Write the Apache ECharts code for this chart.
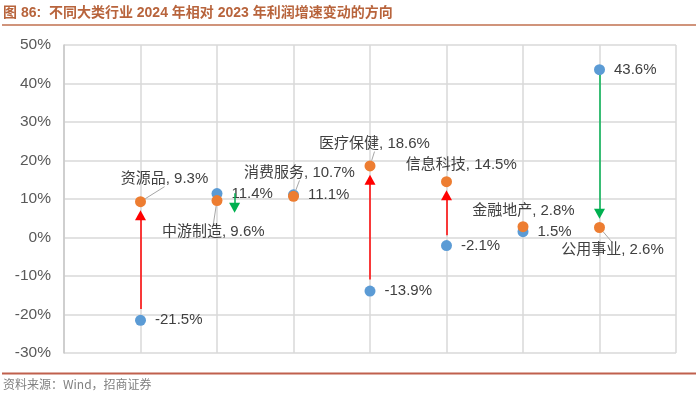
<!DOCTYPE html>
<html>
<head>
<meta charset="utf-8">
<script src="https://cdn.jsdelivr.net/npm/echarts@6/dist/echarts.min.js"></script>
<style>html,body{margin:0;padding:0;background:#fff}#c{width:698px;height:395px}</style>
</head>
<body>
<div id="c"></div>
<script>
// ---- data ----
var categories = ['资源品', '中游制造', '消费服务', '医疗保健', '信息科技', '金融地产', '公用事业'];
var growth2023 = [-21.5, 11.4, 11.1, -13.9, -2.1, 1.5, 43.6];
var growth2024 = [9.3, 9.6, 10.7, 18.6, 14.5, 2.8, 2.6];
// arrows: x position (category slot), start value, head value
var arrowX = [1, 2.23, 4, 5, 7];
var arrowFrom = [-18.6, 11.5, -10.9, 0.6, 42.2];
var arrowTo = [5.8, 7.7, 15.0, 11.0, 6.2];
var yTicks = [-30, -20, -10, 0, 10, 20, 30, 40, 50];

// ---- styles (kept apart from data) ----
var orangeLabelOffset = [[24, -22.5], [-3.7, 31.3], [6, -23.4], [4.5, -21.8], [14.8, -16.5], [0.4, -15.8], [13, 22.7]];
var orangeLabelLine = [true, true, true, true, false, false, true];
var FONT = '"Liberation Sans", Arial, "Noto Sans CJK SC", sans-serif';

var blueData = growth2023.map(function (v, i) { return { name: categories[i], value: [i + 1, v] }; });
var orangeData = growth2024.map(function (v, i) {
  return { name: categories[i], value: [i + 1, v], labelLine: { show: orangeLabelLine[i] } };
});

var upLines = [], downLines = [];
for (var i = 0; i < arrowX.length; i++) {
  var seg = [{ coord: [arrowX[i], arrowFrom[i]] }, { coord: [arrowX[i], arrowTo[i]] }];
  if (arrowTo[i] > arrowFrom[i]) upLines.push(seg); else downLines.push(seg);
}

var chart = echarts.init(document.getElementById('c'), null, { renderer: 'canvas' });
chart.setOption({
  animation: false,
  backgroundColor: '#fff',
  grid: { left: 64, right: 22, top: 45, bottom: 42, containLabel: false },
  xAxis: {
    type: 'value', min: 0, max: 8, interval: 1,
    axisLabel: { show: false }, axisTick: { show: false }, axisLine: { show: false },
    splitLine: { show: true, lineStyle: { color: '#d9d9d9', width: 1.5 } }
  },
  yAxis: {
    type: 'value', min: yTicks[0], max: yTicks[yTicks.length - 1], interval: 10,
    axisLabel: { formatter: '{value}%', fontSize: 15.5, color: '#595959', fontFamily: FONT, margin: 13 },
    axisTick: { show: false },
    axisLine: { show: true, onZero: false, lineStyle: { color: '#c8c8c8', width: 1.5 } },
    splitLine: { show: true, lineStyle: { color: '#d9d9d9', width: 1.5 } }
  },
  graphic: [
    { type: 'text', left: 3, top: 6, style: { text: '图 86:  不同大类行业 2024 年相对 2023 年利润增速变动的方向', font: 'bold 14px "Liberation Sans", "Noto Sans CJK SC", sans-serif', fill: '#b8643c' } },
    { type: 'line', shape: { x1: 2, y1: 25, x2: 696, y2: 25 }, style: { stroke: '#c0704f', lineWidth: 1.5 } },
    { type: 'line', shape: { x1: 2, y1: 373.5, x2: 696, y2: 373.5 }, style: { stroke: '#c0604d', lineWidth: 2 } },
    { type: 'text', left: 3, top: 378, style: { text: '资料来源：Wind，招商证券', font: '12px "Noto Sans CJK SC", sans-serif', fill: '#808080' } }
  ],
  series: [
    {
      type: 'scatter', name: '2023', data: blueData, symbolSize: 11, z: 3,
      itemStyle: { color: '#5b9bd5', opacity: 1 },
      label: {
        show: true, position: 'right', distance: 9, fontSize: 15, color: '#404040', fontFamily: FONT,
        formatter: function (p) { return p.value[1].toFixed(1) + '%'; }
      },
      markLine: {
        silent: true, symbol: ['none', 'triangle'], symbolSize: [11, 10], label: { show: false },
        lineStyle: { color: '#ff0000', width: 1.5, type: 'solid' },
        data: upLines
      }
    },
    {
      type: 'scatter', name: '2024', data: orangeData, symbolSize: 11, z: 4,
      itemStyle: { color: '#ed7d31', opacity: 1 },
      label: {
        show: true, position: 'inside', fontSize: 15, color: '#404040', fontFamily: FONT,
        formatter: function (p) { return p.name + ', ' + p.value[1].toFixed(1) + '%'; }
      },
      labelLine: { show: true, lineStyle: { color: '#a6a6a6', width: 1 } },
      labelLayout: function (p) {
        var o = orangeLabelOffset[p.dataIndex];
        return { dx: o[0], dy: o[1] };
      },
      markLine: {
        silent: true, symbol: ['none', 'triangle'], symbolSize: [11, 10], label: { show: false },
        lineStyle: { color: '#00b050', width: 1.5, type: 'solid' },
        data: downLines
      }
    }
  ]
});
</script>
</body>
</html>
